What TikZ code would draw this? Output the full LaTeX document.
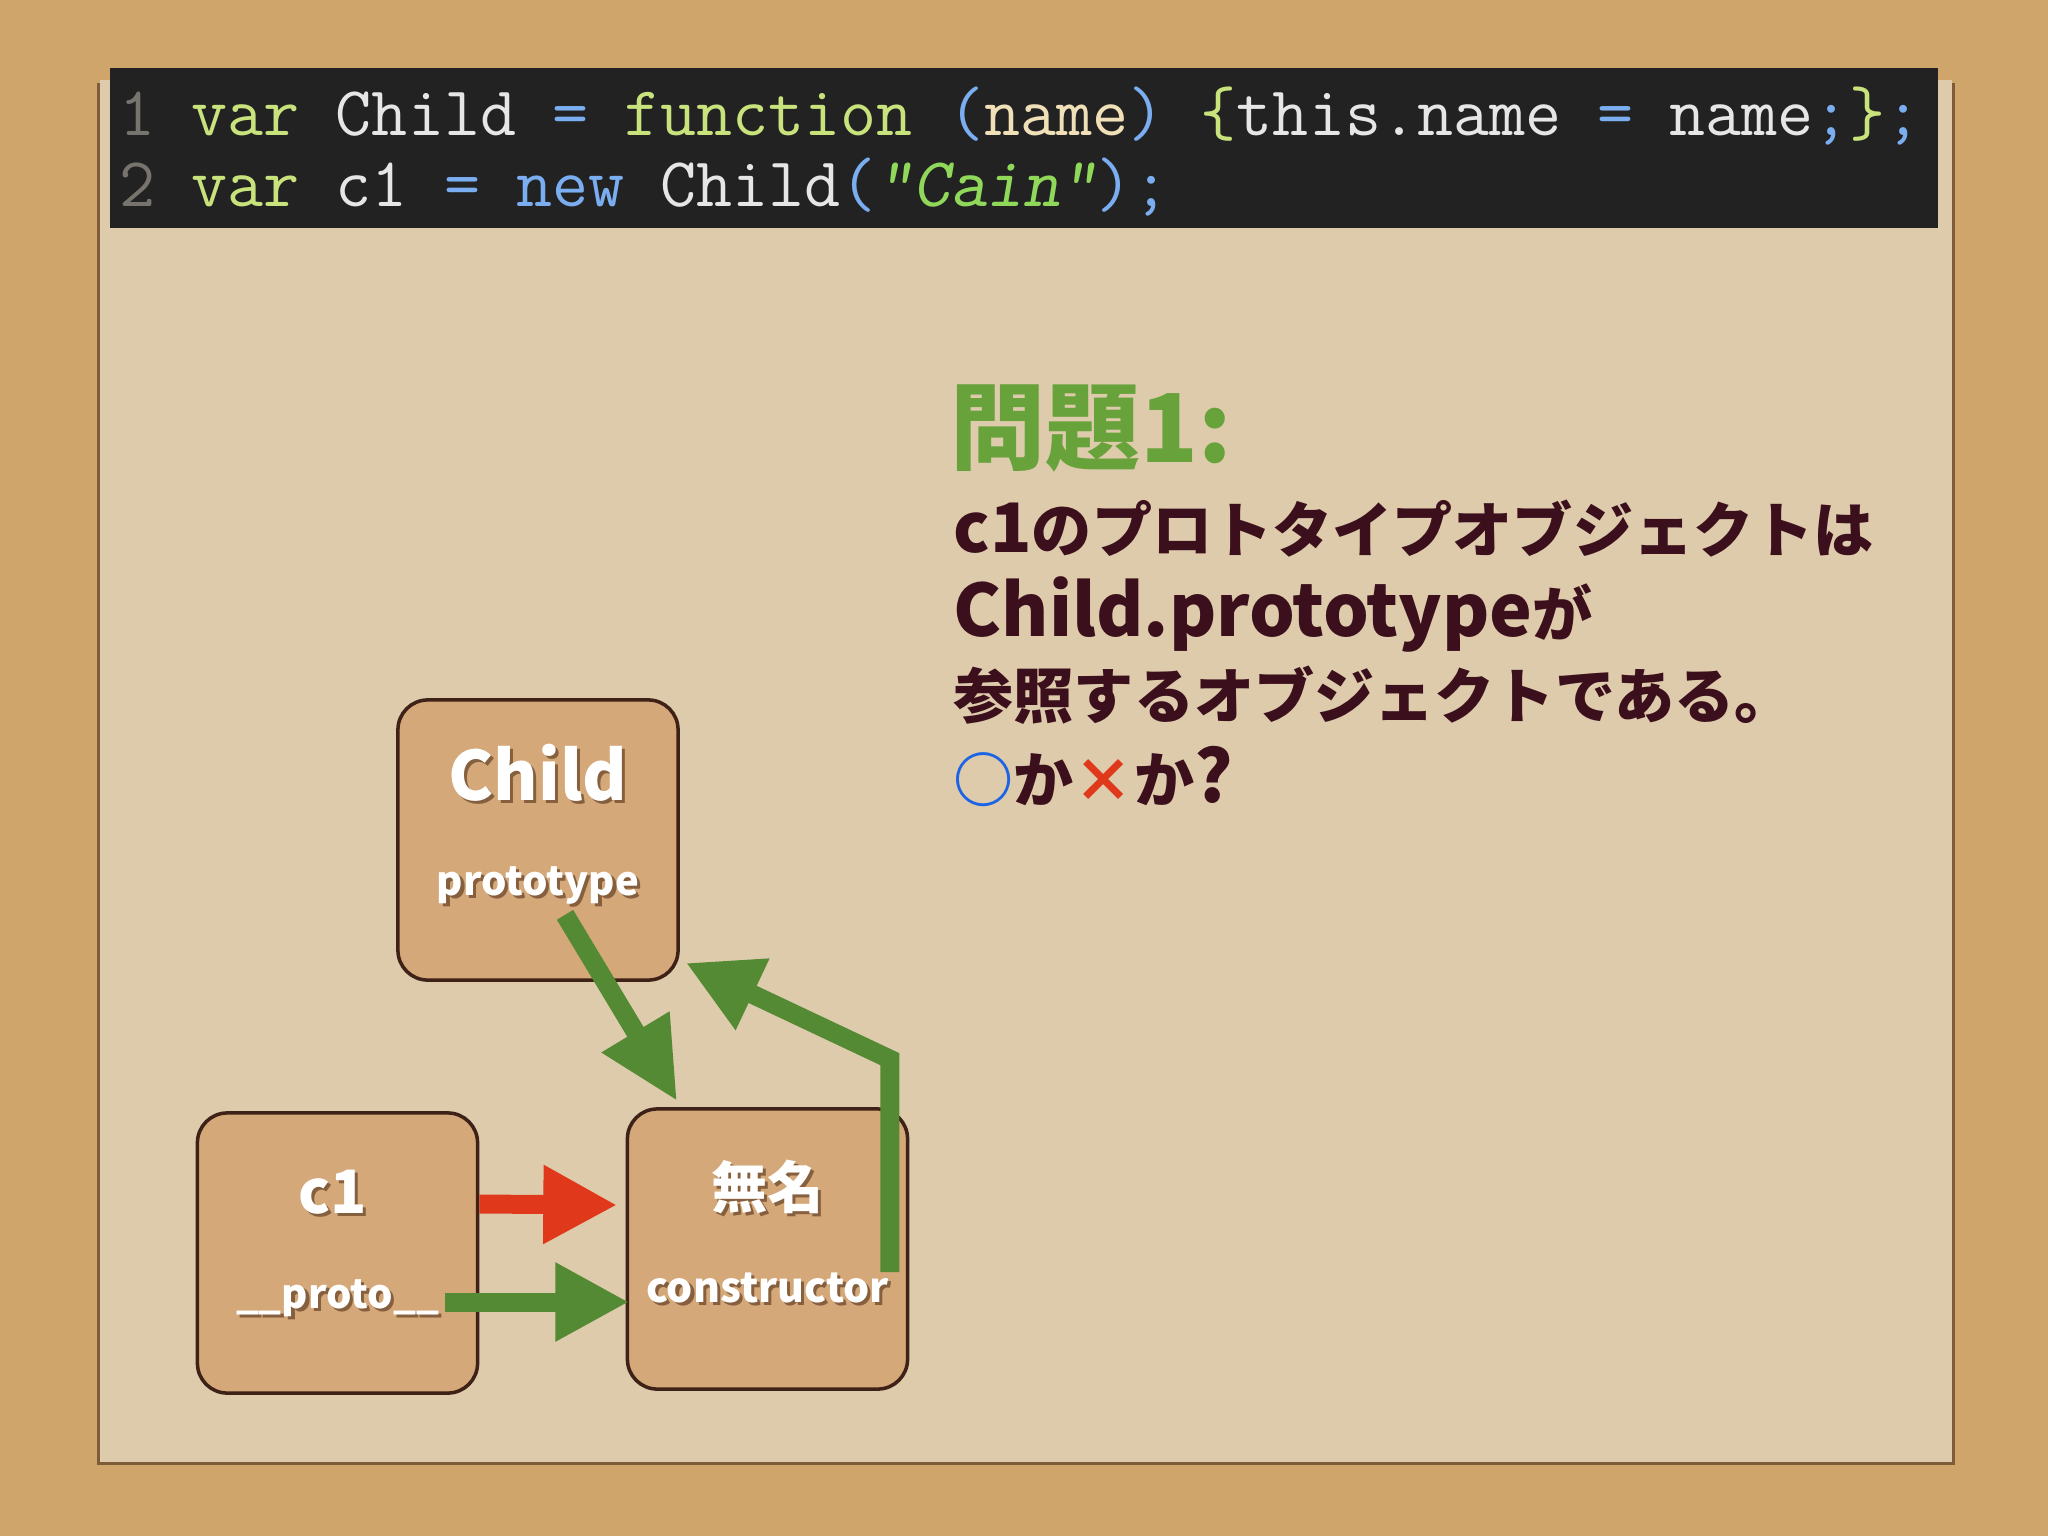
\documentclass[tikz,border=0pt]{standalone}
\usepackage{fontspec}
\IfFontExistsTF{Noto Sans CJK JP Black}
  {\newfontfamily\jpfont{Noto Sans CJK JP Black}}
  {\newfontfamily\jpfont{Noto Sans CJK JP}[UprightFont={*/B}]}
\usetikzlibrary{arrows.meta,calc}

\definecolor{cork}{HTML}{D0A56B}
\definecolor{paper}{HTML}{DDCBAC}
\definecolor{paperedge}{HTML}{7E5C38}
\definecolor{codebg}{HTML}{222222}
\definecolor{boxfill}{HTML}{D4A878}
\definecolor{boxline}{HTML}{3E2117}
\definecolor{boxshade}{HTML}{86603E}
\definecolor{arrowgreen}{HTML}{538A33}
\definecolor{arrowred}{HTML}{E0381A}
\definecolor{titlegreen}{HTML}{68A23A}
\definecolor{ink}{HTML}{3C0F1C}
\definecolor{okblue}{HTML}{1C64E6}
\definecolor{lnum}{HTML}{77746E}
\definecolor{kw}{HTML}{C8E27C}
\definecolor{plain}{HTML}{E6E6E6}
\definecolor{op}{HTML}{7AAEF0}
\definecolor{param}{HTML}{EFE0B8}
\definecolor{str}{HTML}{8FD85A}

\newcommand\fs[1]{\fontsize{#1}{#1}\selectfont}
\newcommand\shtext[1]{\makebox[0pt][l]{\hspace{0.9pt}\raisebox{-0.9pt}{\textcolor{boxshade}{#1}}}#1}

\begin{document}
\begin{tikzpicture}[x=0.01cm,y=-0.01cm,
    objbox/.style={draw=boxline, line width=1pt, fill=boxfill, rounded corners=8.5pt,
      minimum size=2.8cm, inner sep=0pt},
    lbl/.style={text=white, anchor=base, inner sep=0pt},
    codeline/.style={anchor=base west, inner sep=0pt, text=plain, font=\ttfamily\fs{19.9pt}},
    qline/.style={anchor=base west, inner sep=0pt, text=ink, font=\jpfont\fs{17.1pt}},
    ptr/.style={draw=arrowgreen, line width=5.4pt,
      -{Triangle[length=21pt,width=21pt]}}]
  \useasboundingbox (0,0) rectangle (2048,1536);
  % board and paper
  \fill[cork] (0,0) rectangle (2048,1536);
  \fill[paperedge] (97,83) rectangle (1955,1465);
  \fill[paper] (100,80) rectangle (1952,1462);
  % code
  \fill[codebg] (110,68) rectangle (1938,228);
  \node[codeline] (line1) at (119,135) {\textcolor{lnum}{1} \textcolor{kw}{var} Child \textcolor{op}{=} \textcolor{kw}{function} \textcolor{op}{(}\textcolor{param}{name}\textcolor{op}{)} \textcolor{kw}{\{}this.name \textcolor{op}{=} name\textcolor{op}{;}\textcolor{kw}{\}}\textcolor{op}{;}};
  \node[codeline] (line2) at (119,206) {\textcolor{lnum}{2} \textcolor{kw}{var} c1 \textcolor{op}{=} \textcolor{op}{new} Child\textcolor{op}{(}\textcolor{str}{\slshape "Cain"}\textcolor{op}{);}};
  % objects
  \node[objbox] (child) at (538,840) {};
  \node[objbox] (c1) at (337.5,1253) {};
  \node[objbox] (anon) at (767.5,1249) {};
  \node[lbl, font=\jpfont\fs{19.3pt}] (childname) at ($(child.center)+(0,-40)$) {\shtext{Child}};
  \node[lbl, font=\jpfont\fs{11.4pt}] (childproto) at ($(child.center)+(0,55)$) {\shtext{prototype}};
  \node[lbl, font=\jpfont\fs{17pt}] (c1name) at ($(c1.center)+(-5,-40)$) {\shtext{c1}};
  \node[lbl, font=\jpfont\fs{11.4pt}] (c1proto) at ($(c1.center)+(0,55)$) {\shtext{\_\_proto\_\_}};
  \node[lbl, font=\jpfont\fs{16pt}] (anonname) at ($(anon.center)+(0,-41)$) {\shtext{無名}};
  \node[lbl, font=\jpfont\fs{11.7pt}] (anonctor) at ($(anon.center)+(0,53)$) {\shtext{constructor}};
  % pointers
  \draw[ptr, draw=arrowred] ($(c1.east)+(0,-49)$) -- ($(anon.west)+(-8.5,-44)$);
  \draw[ptr] ($(c1.east)+(-34.5,49)$) -- ($(anon.west)+(3.5,53)$);
  \draw[ptr, -{Triangle[length=23pt,width=21pt]}] ($(child.south)+(27,-67)$) -- ($(anon.north west)+(51.5,-6)$);
  \draw[ptr] ($(anon.east)+(-19.5,23)$) -- ($(anon.north east)+(-19.5,-48)$) -- ($(child.south east)+(6,-19)$);
  % question
  \node[anchor=base west, inner sep=0pt, text=titlegreen, font=\jpfont\fs{27pt}] (title) at (950,462) {問題1:};
  \node[qline] (q1) at (953,552) {{\fs{19.4pt}c1}のプロトタイプオブジェクトは};
  \node[qline] (q2) at (953,636) {{\fs{20.5pt}Child.prototype}が};
  \node[qline] (q3) at (953,718) {参照するオブジェクトである。};
  \node[qline] (q4) at (953,802) {\textcolor{okblue}{○}か\textcolor{arrowred}{×}か{\fs{20.5pt}?}};
\end{tikzpicture}
\end{document}
